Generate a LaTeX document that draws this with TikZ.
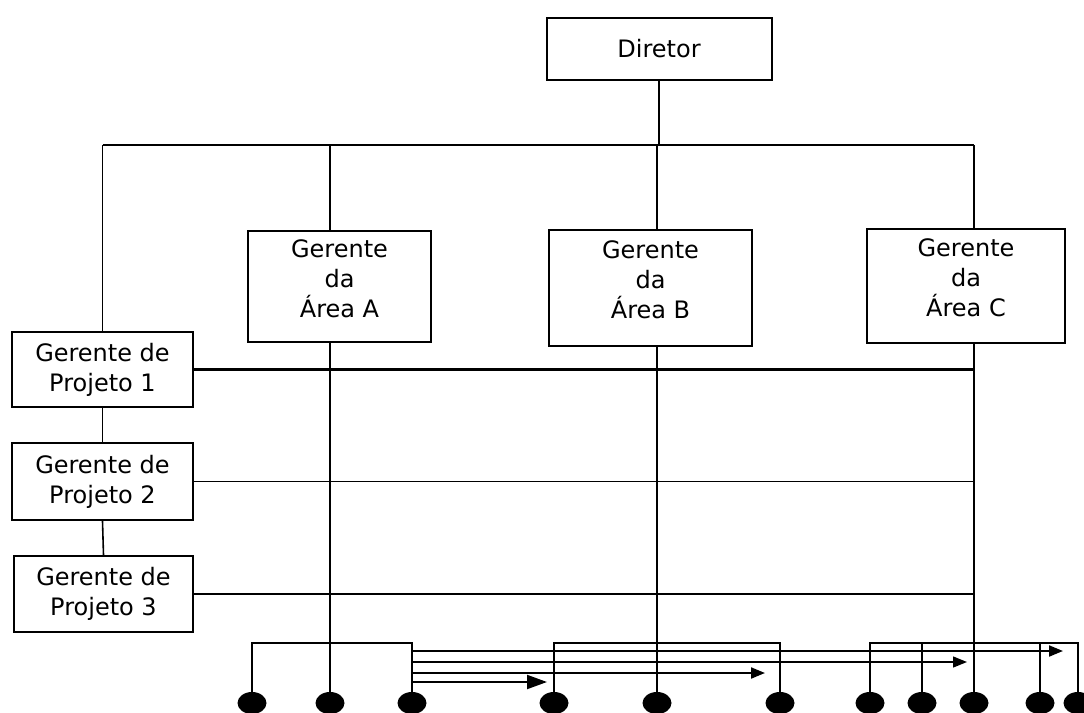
\documentclass[tikz,border=0pt]{standalone}
\usepackage{fontspec}
\setmainfont{DejaVu Sans}
\usetikzlibrary{arrows.meta,shapes.geometric}

\tikzset{
  box/.style={draw, line width=1pt, fill=white, align=center, inner sep=0pt,
              font=\fontsize{12}{15}\selectfont},
  areabox/.style={box, text depth=8pt},
  dot/.style={ellipse, fill, inner sep=0pt, minimum width=14.5pt, minimum height=11pt},
  link/.style={line width=0.8pt},
  flow/.style={line width=1pt, -{Triangle[length=7pt,width=5.5pt]}},
}

\begin{document}
\begin{tikzpicture}[x=0.5pt, y=-0.5pt]
    \useasboundingbox (0,0) rectangle (1084,713);

    % Levels of the horizontal lines
    \def\topY{145}
    \def\busY{643}

    % Boxes
    \node[box, minimum width=112.5pt, minimum height=31pt] (dir) at (659,49) {Diretor};
    \node[areabox, minimum width=91.5pt, minimum height=55.5pt] (areaA) at (339.5,286.5) {Gerente\\da\\Área A};
    \node[areabox, minimum width=101.5pt, minimum height=58pt] (areaB) at (650.5,288) {Gerente\\da\\Área B};
    \node[areabox, minimum width=99pt, minimum height=57pt] (areaC) at (966,286) {Gerente\\da\\Área C};
    \node[box, minimum width=90.5pt, minimum height=37.5pt] (proj1) at (102.5,369.5) {Gerente de\\Projeto 1};
    \node[box, minimum width=90.5pt, minimum height=38.5pt] (proj2) at (102.5,481.5) {Gerente de\\Projeto 2};
    \node[box, minimum width=89.5pt, minimum height=38pt] (proj3) at (103.5,594) {Gerente de\\Projeto 3};

    % People at the bottom
    \foreach \n/\x in {1/252, 2/330, 3/412, 4/554, 5/657, 6/780, 7/870, 8/922, 9/974, 10/1040, 11/1078}
        \node[dot] (d\n) at (\x,703) {};

    % Director to the top line
    \draw[link] (dir.south) -- (dir.south |- 0,\topY);
    \draw[link] (proj1.north |- 0,\topY) -- (d9 |- 0,\topY);

    % Top line down to the area managers
    \draw[link] (d2 |- 0,\topY) -- (d2 |- areaA.north);
    \draw[link] (d5 |- 0,\topY) -- (d5 |- areaB.north);
    \draw[link] (d9 |- 0,\topY) -- (d9 |- areaC.north);
    \draw[link] (proj1.north |- 0,\topY) -- (proj1.north);

    % Project managers chain
    \draw[link] (proj1.south) -- (proj2.north);
    \draw[link] (proj2.south) -- (proj3.north);

    % Project lines across the areas
    \draw[line width=1.5pt] (proj1.east) -- (proj1.east -| d9);
    \draw[link] (proj2.east) -- (proj2.east -| d9);
    \draw[link] (proj3.east) -- (proj3.east -| d9);

    % Area managers down to their people
    \draw[link] (d2 |- areaA.south) -- (d2);
    \draw[link] (d5 |- areaB.south) -- (d5);
    \draw[link] (d9 |- areaC.south) -- (d9);

    % Groups
    \draw[link] (d1) -- (d1 |- 0,\busY) -| (d3);
    \draw[link] (d4) -- (d4 |- 0,\busY) -| (d6);
    \draw[link] (d7) -- (d7 |- 0,\busY) -| (d11);
    \draw[link] (d8) -- (d8 |- 0,\busY);
    \draw[link] (d10) -- (d10 |- 0,\busY);

    % Moves out of area A
    \draw[flow, shorten >=7.5pt] (d3 |- 0,651) -- (d11 |- 0,651);
    \draw[flow, line width=0.7pt, shorten >=3.5pt] (d3 |- 0,662) -- (d9 |- 0,662);
    \draw[flow, shorten >=7.5pt] (d3 |- 0,673) -- (d6 |- 0,673);
    \draw[line width=1pt, -{Triangle[length=10pt,width=7pt]}, shorten >=3.5pt] (d3 |- 0,682) -- (d4 |- 0,682);

\end{tikzpicture}
\end{document}
